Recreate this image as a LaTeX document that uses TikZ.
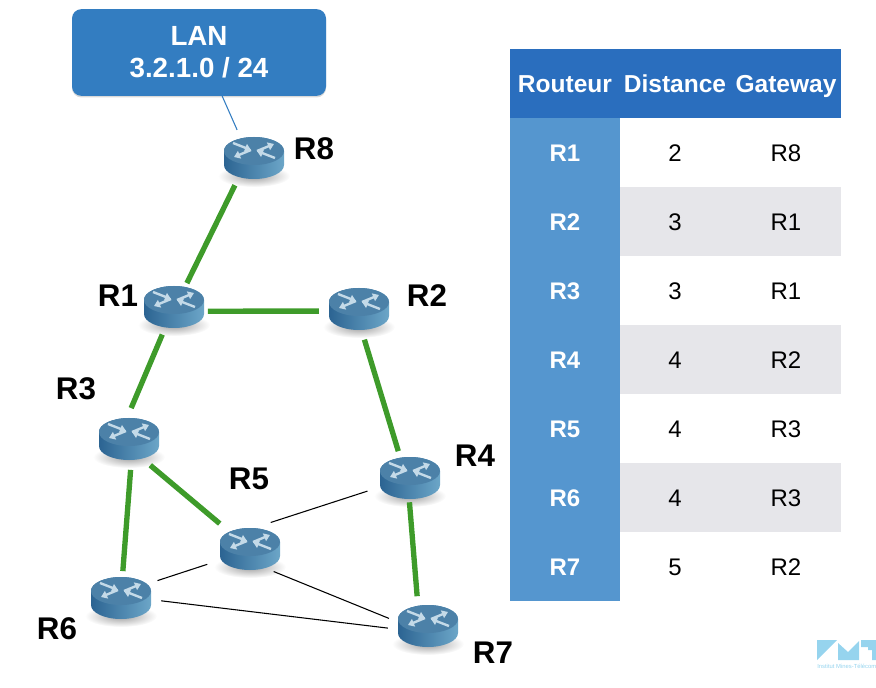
\documentclass[tikz,border=0pt]{standalone}
\usepackage{fontspec}
\setmainfont{Liberation Sans}
\usepackage{xcolor}
\definecolor{lanblue}{RGB}{51,125,193}
\definecolor{headblue}{RGB}{42,110,190}
\definecolor{colblue}{RGB}{85,150,207}
\definecolor{stripegray}{RGB}{230,230,234}
\definecolor{linkgreen}{RGB}{62,155,42}
\definecolor{logoblue}{RGB}{150,212,238}
\definecolor{routerdark}{RGB}{44,100,146}
\definecolor{routerlight}{RGB}{108,166,200}
\definecolor{routertop}{RGB}{76,129,168}
\definecolor{arrowpale}{RGB}{196,218,232}
\usetikzlibrary{shapes.geometric, arrows.meta, shadows}

\begin{document}
\begin{tikzpicture}[
  x=0.75pt, y=-0.75pt,
  lan/.style={rectangle, fill=lanblue, rounded corners=7pt, text=white, align=center,
              minimum width=190.5pt, minimum height=65pt, inner sep=0pt,
              font=\bfseries\fontsize{20.8}{24}\selectfont,
              drop shadow={shadow xshift=0pt, shadow yshift=-1.2pt, opacity=0.3}},
  zone/.style={ellipse, minimum width=60pt, minimum height=46pt, inner sep=0pt},
  rlabel/.style={font=\bfseries\fontsize{23.5}{26}\selectfont, inner sep=0pt},
  greenlink/.style={draw=linkgreen, line width=4pt},
  thinlink/.style={draw=black, line width=0.8pt},
  head/.style={rectangle, fill=headblue, text=white, inner sep=0pt,
               font=\bfseries\fontsize{18.4}{20}\selectfont},
  headtext/.style={head, fill=none, text height=13.5pt, text depth=0pt},
  rowkey/.style={font=\bfseries\fontsize{18}{20}\selectfont, text=white, inner sep=0pt},
  cell/.style={font=\fontsize{18}{20}\selectfont, inner sep=0pt},
  stripe/.style={fill=stripegray, minimum width=165.75pt, minimum height=51.75pt, inner sep=0pt},
  icon/.style={arrowpale, line width=1.8pt, -{Triangle[length=4.5pt, width=6pt]}},
  router/.pic={
    \shade[inner color=black!38, outer color=white] (0,18) ellipse [x radius=36, y radius=11];
    \shade[left color=routerdark, right color=routerlight]
      (-30,-7) -- (-30,7) arc [start angle=180, end angle=0, x radius=30, y radius=14]
      -- (30,-7) arc [start angle=0, end angle=-180, x radius=30, y radius=14] -- cycle;
    \fill[routertop] (0,-7) ellipse [x radius=30, y radius=14];
    \draw[icon] (-21,-15) -- (-3,-8);
    \draw[icon] (21,0) -- (3,-7);
    \draw[icon] (-3,-8) -- (-20,-1);
    \draw[icon] (3,-7) -- (20,-14);
  }
]
\useasboundingbox (0,0) rectangle (876,688);

% Routers
\node[zone] (r8) at (254,158) {};
\node[zone] (r1) at (174,307) {};
\node[zone] (r2) at (359,309) {};
\node[zone] (r3) at (129,439) {};
\node[zone] (r4) at (410,478) {};
\node[zone] (r5) at (250,549) {};
\node[zone] (r6) at (121,598) {};
\node[zone] (r7) at (428,626) {};
\pic at (r8) {router};
\pic at (r1) {router};
\pic at (r2) {router};
\pic at (r3) {router};
\pic at (r4) {router};
\pic at (r5) {router};
\pic at (r6) {router};
\pic at (r7) {router};

% LAN
\node[lan] (lan) at (199,52.5) {LAN\\3.2.1.0 / 24};

% Router labels
\node[rlabel] (l8) at (314,149) {R8};
\node[rlabel] (l1) at (118,296) {R1};
\node[rlabel] (l2) at (427,296) {R2};
\node[rlabel] (l3) at (76,389) {R3};
\node[rlabel] (l4) at (475,456) {R4};
\node[rlabel] (l5) at (249,479) {R5};
\node[rlabel] (l6) at (57,629) {R6};
\node[rlabel] (l7) at (493,653) {R7};

% Links
\draw[draw=lanblue, line width=0.8pt] (lan.-62) -- (r8.121);
\draw[greenlink, shorten >=-4pt] (r8.-125) -- (r1.62);
\draw[greenlink, shorten <=-4.5pt] (r1.-6) -- (r2.183);
\draw[greenlink, shorten <=-1.5pt] (r1.-113) -- (r3.86);
\draw[greenlink, shorten >=-2pt] (r2.-80) -- (r4.113);
\draw[greenlink, shorten >=3pt] (r3.-51) -- (r5.140);
\draw[greenlink, shorten >=-3pt] (r3.-87) -- (r6.86);
\draw[greenlink, shorten <=-5pt] (r4.-90) -- (r7.110);
\draw[thinlink, shorten >=4pt] (r5.52) -- (r4.197);
\draw[thinlink, shorten <=5pt, shorten >=2pt] (r5.200) -- (r6.26);
\draw[thinlink, shorten <=-2pt] (r5.-42) -- (r7.169);
\draw[thinlink] (r6.-4) -- (r7.183);

% Table
\node[head, minimum width=248.25pt, minimum height=51.75pt] (headbg) at (675.5,83.5) {};
\node[rowkey, fill=colblue, minimum width=82.5pt, minimum height=362.25pt] (keybg) at (565,359.5) {};
\node[stripe] (s2) at (730.5,221.5) {};
\node[stripe] (s4) at (730.5,359.5) {};
\node[stripe] (s6) at (730.5,497.5) {};

\node[headtext] (hr) at (565,84) {Routeur};
\node[headtext] (hd) at (675,84) {Distance};
\node[headtext] (hg) at (786,84) {Gateway};

\node[rowkey] (k1) at (565,153) {R1};
\node[rowkey] (k2) at (565,222) {R2};
\node[rowkey] (k3) at (565,291) {R3};
\node[rowkey] (k4) at (565,360) {R4};
\node[rowkey] (k5) at (565,429) {R5};
\node[rowkey] (k6) at (565,498) {R6};
\node[rowkey] (k7) at (565,567) {R7};

\node[cell] (d1) at (675,153) {2};
\node[cell] (d2) at (675,222) {3};
\node[cell] (d3) at (675,291) {3};
\node[cell] (d4) at (675,360) {4};
\node[cell] (d5) at (675,429) {4};
\node[cell] (d6) at (675,498) {4};
\node[cell] (d7) at (675,567) {5};

\node[cell] (g1) at (786,153) {R8};
\node[cell] (g2) at (786,222) {R1};
\node[cell] (g3) at (786,291) {R1};
\node[cell] (g4) at (786,360) {R2};
\node[cell] (g5) at (786,429) {R3};
\node[cell] (g6) at (786,498) {R3};
\node[cell] (g7) at (786,567) {R2};

% Logo
\fill[logoblue] (817,640) -- (837,640) -- (817,660) -- cycle;
\fill[logoblue] (838,643) -- (848,652) -- (859,641) -- (859,660) -- (838,660) -- cycle;
\fill[logoblue] (861,640) -- (876,640) -- (876,660) -- (872,660) -- (872,650) -- (868,650) -- (868,647) -- (861,647) -- cycle;
\node[anchor=west, inner sep=0pt, text=logoblue, font=\fontsize{4.4}{5}\selectfont] (logo) at (817,666) {Institut Mines-Télécom};
\end{tikzpicture}
\end{document}
